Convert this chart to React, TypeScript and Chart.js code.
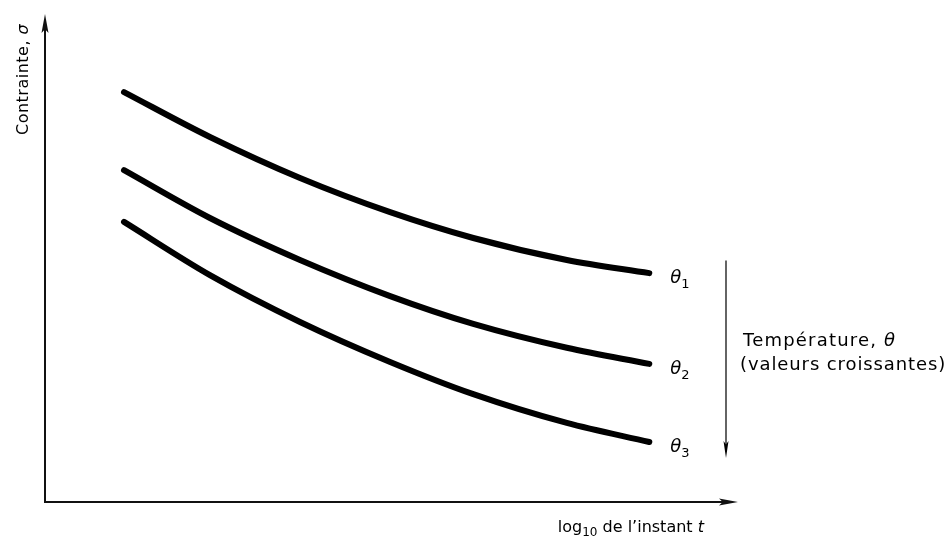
import React, { useEffect, useRef } from "react";
import { Chart, registerables } from "chart.js";

Chart.register(...registerables);

// log10 t (arbitrary units)
const logT = [1.14, 2.38, 3.68, 4.98, 6.18, 7.53, 8.72];
// stress for each temperature
const theta1 = [8.4, 7.48, 6.64, 5.94, 5.41, 4.96, 4.69];
const theta2 = [6.8, 5.82, 4.96, 4.22, 3.65, 3.16, 2.83];
const theta3 = [5.74, 4.65, 3.69, 2.87, 2.21, 1.62, 1.23];
const seriesNames = ["1", "2", "3"];

const FONT = '"DejaVu Sans", sans-serif';

type Run = { t: string; size: number; italic?: boolean; dy?: number };

function drawRuns(ctx: CanvasRenderingContext2D, runs: Run[], x: number, y: number, spacing = 0) {
  let cx = x;
  (ctx as any).letterSpacing = `${spacing}px`;
  for (const r of runs) {
    ctx.font = `${r.italic ? "italic " : ""}${r.size}px ${FONT}`;
    ctx.fillText(r.t, cx, y + (r.dy || 0));
    cx += ctx.measureText(r.t).width;
  }
  (ctx as any).letterSpacing = "0px";
}

function arrowHead(ctx: CanvasRenderingContext2D, x: number, y: number, dir: "up" | "right" | "down", len: number, half: number) {
  ctx.beginPath();
  if (dir === "up") {
    ctx.moveTo(x, y);
    ctx.lineTo(x - half, y + len);
    ctx.lineTo(x, y + len * 0.8);
    ctx.lineTo(x + half, y + len);
  } else if (dir === "down") {
    ctx.moveTo(x, y);
    ctx.lineTo(x - half, y - len);
    ctx.lineTo(x, y - len * 0.8);
    ctx.lineTo(x + half, y - len);
  } else {
    ctx.moveTo(x, y);
    ctx.lineTo(x - len, y - half);
    ctx.lineTo(x - len * 0.8, y);
    ctx.lineTo(x - len, y + half);
  }
  ctx.closePath();
  ctx.fill();
}

const decorPlugin = {
  id: "decor",
  afterDraw(chart: any) {
    const ctx: CanvasRenderingContext2D = chart.ctx;
    const xs = chart.scales.x;
    const ys = chart.scales.y;
    const x0 = xs.getPixelForValue(0);
    const y0 = ys.getPixelForValue(0);
    const xEnd = xs.getPixelForValue(10);
    const yTop = ys.getPixelForValue(10);
    ctx.save();
    ctx.strokeStyle = "#111";
    ctx.fillStyle = "#111";
    ctx.lineWidth = 2;
    ctx.beginPath();
    ctx.moveTo(x0, yTop + 8);
    ctx.lineTo(x0, y0);
    ctx.lineTo(xEnd - 8, y0);
    ctx.stroke();
    arrowHead(ctx, x0, yTop, "up", 19, 3.5);
    arrowHead(ctx, xEnd, y0, "right", 19, 3.5);

    // curve labels
    ctx.fillStyle = "#000";
    ctx.textBaseline = "alphabetic";
    const sets = [theta1, theta2, theta3];
    sets.forEach((s, i) => {
      const px = xs.getPixelForValue(logT[logT.length - 1]) + 21;
      const py = ys.getPixelForValue(s[s.length - 1]) + 10;
      drawRuns(ctx, [
        { t: "θ", size: 18, italic: true },
        { t: seriesNames[i], size: 13, dy: 5 },
      ], px, py);
    });

    // temperature arrow
    const ax = xEnd - 12;
    const ayTop = ys.getPixelForValue(4.95);
    const ayBot = ys.getPixelForValue(0.9);
    ctx.lineWidth = 1.3;
    ctx.beginPath();
    ctx.moveTo(ax, ayTop);
    ctx.lineTo(ax, ayBot - 8);
    ctx.stroke();
    arrowHead(ctx, ax, ayBot, "down", 17, 2.5);

    drawRuns(ctx, [
      { t: "Température, ", size: 18 },
      { t: "θ", size: 18, italic: true },
    ], ax + 17, ys.getPixelForValue(3.2), 1.2);
    drawRuns(ctx, [{ t: "(valeurs croissantes)", size: 18 }], ax + 14, ys.getPixelForValue(2.7), 0.9);

    // x axis title
    drawRuns(ctx, [
      { t: "log", size: 16 },
      { t: "10", size: 12, dy: 4 },
      { t: " de l’instant ", size: 16 },
      { t: "t", size: 16, italic: true },
    ], xs.getPixelForValue(7.4), y0 + 30);

    // y axis title
    ctx.save();
    ctx.translate(x0 - 17, ys.getPixelForValue(7.52));
    ctx.rotate(-Math.PI / 2);
    drawRuns(ctx, [
      { t: "Contrainte, ", size: 16 },
      { t: "σ", size: 16, italic: true },
    ], 0, 0, 0.5);
    ctx.restore();
    ctx.restore();
  },
};

export default function App() {
  const ref = useRef<HTMLCanvasElement | null>(null);
  useEffect(() => {
    if (!ref.current) return;
    const mk = (ys: number[]) => ({
      data: logT.map((x, i) => ({ x, y: ys[i] })),
      borderColor: "#000",
      borderWidth: 6,
      borderCapStyle: "round" as const,
      borderJoinStyle: "round" as const,
      pointRadius: 0,
      cubicInterpolationMode: "monotone" as const,
      fill: false,
    });
    const chart = new Chart(ref.current, {
      type: "line",
      data: { datasets: [mk(theta1), mk(theta2), mk(theta3)] },
      options: {
        animation: false,
        responsive: false,
        events: [],
        layout: { padding: { left: 45, right: 214, top: 14, bottom: 43 } },
        plugins: { legend: { display: false }, tooltip: { enabled: false } },
        scales: {
          x: { type: "linear", min: 0, max: 10, display: false },
          y: { type: "linear", min: 0, max: 10, display: false },
        },
      },
      plugins: [decorPlugin],
    });
    return () => chart.destroy();
  }, []);
  return (
    <div style={{ position: "fixed", left: 0, top: 0, width: 952, height: 545, background: "#fff" }}>
      <canvas ref={ref} width={952} height={545} style={{ width: 952, height: 545 }} />
    </div>
  );
}
